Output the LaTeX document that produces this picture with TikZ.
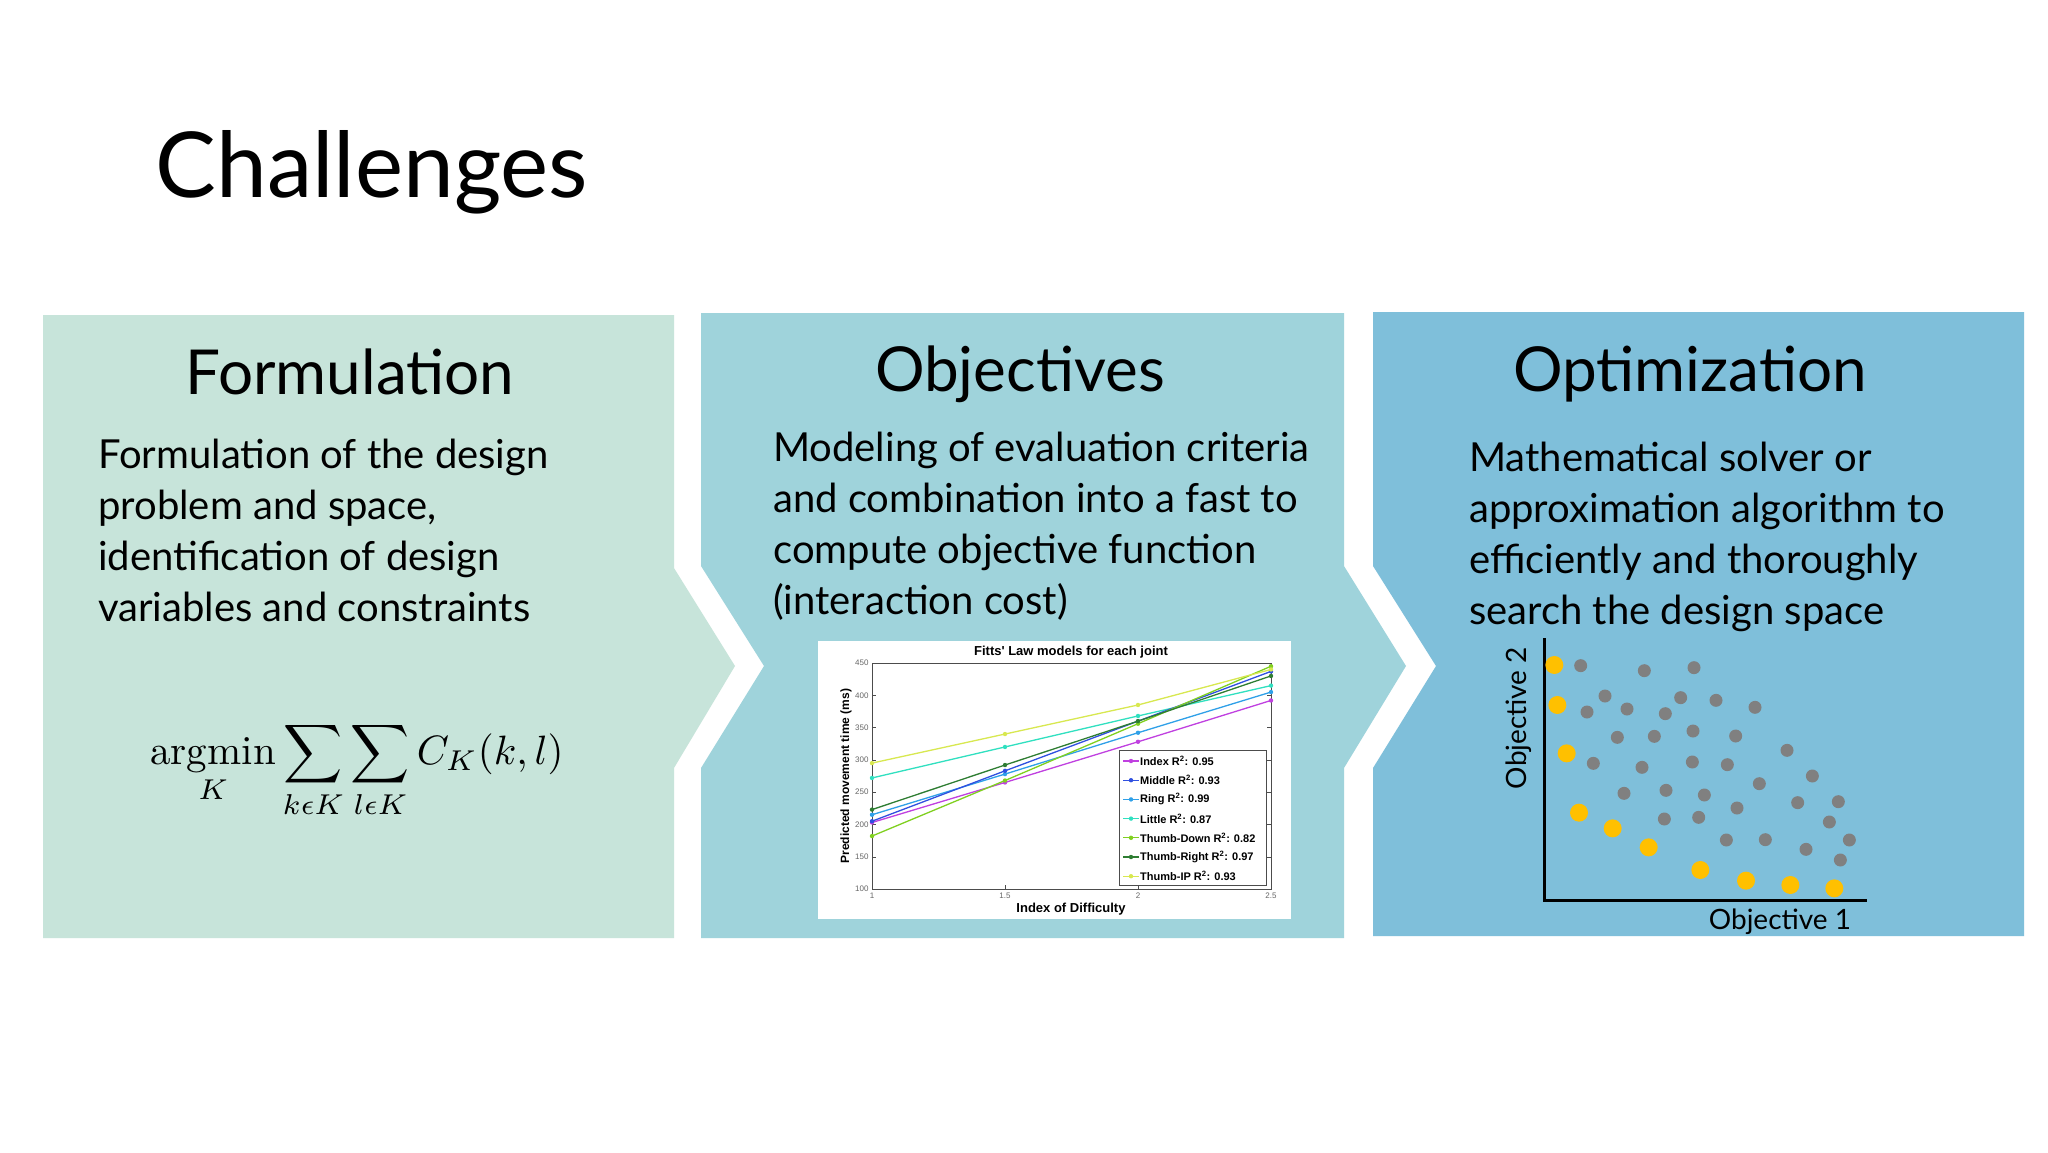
\documentclass[tikz,border=0pt]{standalone}
\usepackage{amsmath}
\usepackage{fontspec}
\setmainfont{Lato}
\newfontfamily\arialf{Liberation Sans}
\newfontfamily\lmr{Latin Modern Roman}
\definecolor{pone}{HTML}{C7E4DA}
\definecolor{ptwo}{HTML}{9FD3DB}
\definecolor{pthree}{HTML}{7FBFDA}
\definecolor{cIdx}{HTML}{C040E0}
\definecolor{cMid}{HTML}{3050E0}
\definecolor{cRing}{HTML}{2FA0E8}
\definecolor{cLit}{HTML}{30E0C0}
\definecolor{cTD}{HTML}{80D020}
\definecolor{cTR}{HTML}{2E7D32}
\definecolor{cTIP}{HTML}{D8E850}
\definecolor{dotg}{HTML}{808080}
\definecolor{doty}{HTML}{FFC000}
\tikzset{
 heading/.style={font=\fontsize{62}{70}\selectfont,text=black},
 body/.style={font=\fontsize{40}{51}\selectfont,align=left,anchor=north west,inner sep=0},
 tick/.style={font=\arialf\fontsize{8}{9}\selectfont,text=black!60},
 leg/.style={font=\arialf\bfseries\fontsize{11}{12}\selectfont,anchor=west,inner sep=1pt},
 axlab/.style={font=\fontsize{28}{30}\selectfont},
}
\begin{document}
\begin{tikzpicture}[x=1pt,y=-1pt]
\useasboundingbox (0,0) rectangle (2048,1152);
\fill[white] (0,0) rectangle (2048,1152);
\node[anchor=west,font=\fontsize{91}{100}\selectfont] (title) at (152,172) {Challenges};
% panels
\fill[pone] (43,315) -- (674,315) -- (674,568) -- (735,666) -- (674,768) -- (674,938) -- (43,938) -- cycle;
\fill[ptwo] (701,313) -- (1344,313) -- (1344,566) -- (1406,666) -- (1344,768) -- (1344,938) -- (701,938) -- (701,768) -- (764,666) -- (701,566) -- cycle;
\fill[pthree] (1373,312) -- (2024,312) -- (2024,936) -- (1373,936) -- (1373,768) -- (1436,666) -- (1373,566) -- cycle;
\node[heading] (h1) at (350,372) {Formulation};
\node[heading] (h2) at (1020,374) {Objectives};
\node[heading] (h3) at (1690,374) {Optimization};
\node[body] (b1) at (98,439) {Formulation of the design\\problem and space,\\identification of design\\variables and constraints};
\node[body] (b2) at (773,432) {Modeling of evaluation criteria\\and combination into a fast to\\compute objective function\\(interaction cost)};
\node[body] (b3) at (1469,442) {Mathematical solver or\\approximation algorithm to\\efficiently and thoroughly\\search the design space};
% formula
\node[scale=4.1,transform shape] (form) at (357,770) {$\displaystyle \mathop{\text{\lmr argmin}}\limits_{K}\sum_{k\epsilon K}\sum_{l\epsilon K} C_K(k,l)$};
% chart
\fill[white] (818,641) rectangle (1291,919);
\node[font=\arialf\bfseries\fontsize{13}{14}\selectfont] (ctitle) at (1071,652) {Fitts' Law models for each joint};
\draw[black!70,line width=0.8] (872,663) rectangle (1271,889);
\foreach \v in {100,150,...,450}{
 \draw[black!70] (872,{889-(\v-100)*0.6457}) -- ++(4,0);
 \draw[black!70] (1271,{889-(\v-100)*0.6457}) -- ++(-4,0);
 \node[tick,anchor=east] at (872,{889-(\v-100)*0.6457}) {\v};}
\foreach \i/\l in {0/1,1/1.5,2/2,3/2.5}{
 \node[tick,anchor=north] at ({872+\i*133},889) {\l};
 \draw[black!70] ({872+\i*133},889) -- ++(0,-4);}
\node[font=\arialf\bfseries\fontsize{13}{14}\selectfont] (xl) at (1071,909) {Index of Difficulty};
\node[font=\arialf\bfseries\fontsize{12}{13}\selectfont,rotate=90] (yl) at (846,776) {Predicted movement time (ms)};
\foreach \c/\a/\b/\cc/\d in {cIdx/203/265/328/392,cRing/215/278/342/405,cLit/272/320/368/415,cMid/205/283/360/437,cTD/182/268/356/445,cTR/223/292/360/430,cTIP/295/340/385/440}{
 \draw[\c,line width=1.3] (872,{889-(\a-100)*0.6457}) -- (1005,{889-(\b-100)*0.6457}) -- (1138,{889-(\cc-100)*0.6457}) -- (1271,{889-(\d-100)*0.6457});
 \foreach \xx/\vv in {872/\a,1005/\b,1138/\cc,1271/\d}{\fill[\c] (\xx,{889-(\vv-100)*0.6457}) circle (2.2pt);}
}
\draw[black!70,fill=white] (1119,750) rectangle (1266,885);
\foreach \k/\c/\t/\r in {0/cIdx/Index/0.95,1/cMid/Middle/0.93,2/cRing/Ring/0.99,3/cLit/Little/0.87,4/cTD/Thumb-Down/0.82,5/cTR/Thumb-Right/0.97,6/cTIP/Thumb-IP/0.93}{
 \draw[\c,line width=1.3] (1123,{761+\k*19.2}) -- (1139,{761+\k*19.2});
 \fill[\c] (1131,{761+\k*19.2}) circle (2.2pt);
 \node[leg] at (1139,{761+\k*19.2}) {\t{} R\textsuperscript{2}: \r};
}
% scatter
\draw[line width=3pt] (1544,638) -- (1544,900) -- (1867,900);
\node[axlab,rotate=90] (o2) at (1519,718) {Objective 2};
\node[axlab] (o1) at (1780,922) {Objective 1};
\foreach \x/\y in {242/107,433/122,582/113,315/198,542/203,648/211,765/232,261/246,381/237,496/251,352/322,463/319,579/303,707/318,861/361,280/400,426/412,577/396,682/404,937/438,372/490,498/481,613/495,778/461,711/534,893/518,1015/515,493/567,596/562,988/576,679/630,796/629,1048/630,918/658,1021/690}
 \fill[dotg] ({1500+\x/3},{630+\y/3}) circle (6.5pt);
\foreach \x/\y in {163/105,172/225,200/370,237/548,338/595,446/652,601/720,738/752,871/765,1003/775}
 \fill[doty] ({1500+\x/3},{630+\y/3}) circle (9pt);
\end{tikzpicture}
\end{document}
